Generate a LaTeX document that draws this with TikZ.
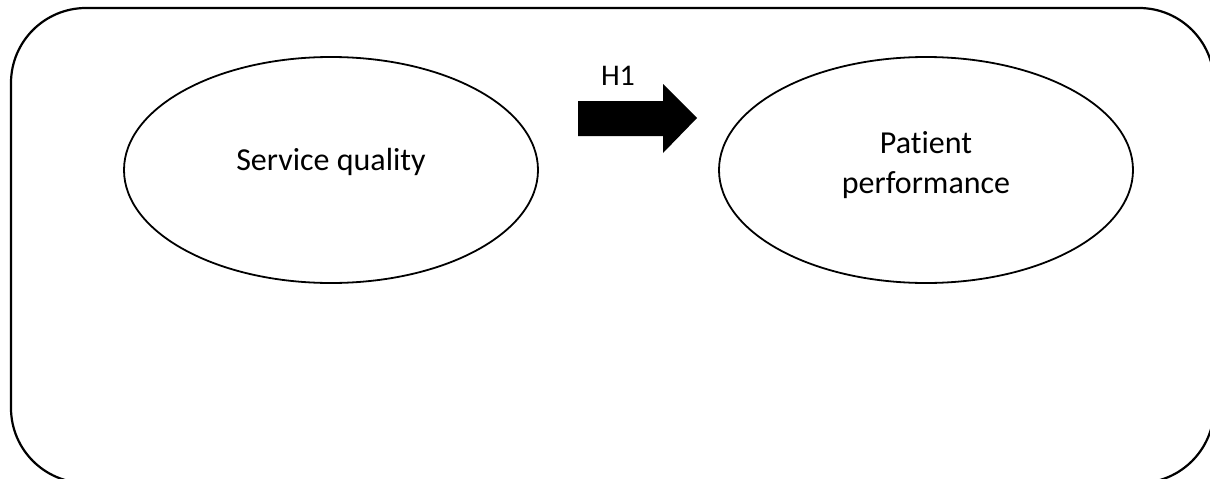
\documentclass[tikz,border=0pt]{standalone}
\usepackage{fontspec}
\setmainfont{Carlito}[Ligatures=NoCommon]
\usetikzlibrary{shapes.geometric}
\begin{document}
\begin{tikzpicture}[x=1pt,y=-1pt,
  frame/.style={draw=black,line width=2.2pt,rounded corners=75pt},
  construct/.style={draw=black,line width=1.8pt,ellipse,minimum width=414pt,minimum height=226pt,inner sep=0pt},
  txt/.style={font=\fontsize{32}{40}\selectfont,inner sep=0pt,anchor=base},
  lbl/.style={font=\fontsize{30}{36}\selectfont,inner sep=0pt,anchor=base}]
\useasboundingbox (0,0) rectangle (1210,479);
\begin{scope}
\clip (0,0) rectangle (1210,479);
\draw[frame] (11,8) rectangle (1214,483);
\end{scope}
\node[construct] (sq) at (331,170) {};
\node[construct] (pp) at (926,170) {};
\node[txt] (sqt) at (331,170) {Service quality};
\node[txt] (ppa) at (926,153) {Patient};
\node[txt] (ppb) at (926,193) {performance};
\fill[black] (578,101) -- (663,101) -- (663,84) -- (697,118) -- (663,153) -- (663,136) -- (578,136) -- cycle;
\node[lbl] (h1) at (618,85) {H1};
\end{tikzpicture}
\end{document}
